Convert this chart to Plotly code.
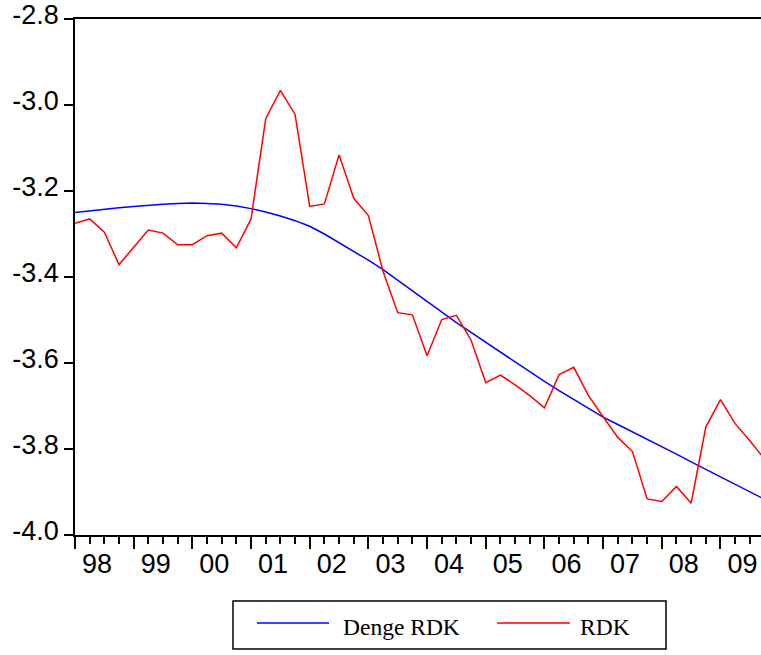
import plotly.graph_objects as go

# Quarterly observations 1998Q1 .. 2009Q4
years = ["98", "99", "00", "01", "02", "03", "04", "05", "06", "07", "08", "09"]
quarters_per_year = 4

rdk = [
    -3.275, -3.265, -3.296, -3.371,
    -3.331, -3.291, -3.298, -3.325,
    -3.325, -3.304, -3.298, -3.332,
    -3.265, -3.032, -2.966, -3.022,
    -3.236, -3.230, -3.116, -3.217,
    -3.257, -3.387, -3.483, -3.488,
    -3.583, -3.499, -3.489, -3.547,
    -3.646, -3.628, -3.651, -3.676,
    -3.704, -3.627, -3.610, -3.676,
    -3.725, -3.773, -3.806, -3.916,
    -3.922, -3.887, -3.926, -3.749,
    -3.685, -3.741, -3.781, -3.823,
]

denge_rdk = [
    -3.250, -3.246, -3.243, -3.239,
    -3.236, -3.233, -3.231, -3.229,
    -3.228, -3.229, -3.231, -3.235,
    -3.241, -3.249, -3.258, -3.269,
    -3.282, -3.300, -3.320, -3.340,
    -3.361, -3.383, -3.408, -3.432,
    -3.457, -3.481, -3.506, -3.529,
    -3.552, -3.575, -3.598, -3.621,
    -3.643, -3.664, -3.685, -3.706,
    -3.726, -3.743, -3.760, -3.778,
    -3.795, -3.812, -3.830, -3.847,
    -3.865, -3.882, -3.899, -3.917,
]

y_ticks = [-2.8, -3.0, -3.2, -3.4, -3.6, -3.8, -4.0]

idx = list(range(len(rdk)))
year_starts = [i * quarters_per_year for i in range(len(years))]

W, H = 761, 655
ML, MR, MT, MB = 75, 0, 19, 120
PW, PH = W - ML - MR, H - MT - MB
QUARTER_PX = 14.67
x_max = PW / QUARTER_PX

AXIS_FONT = dict(family="Liberation Sans, Arial, sans-serif", size=27, color="black")
LEG_FONT = dict(family="Liberation Serif, Times New Roman, serif", size=23.5, color="black")

fig = go.Figure()
fig.add_trace(go.Scatter(x=idx, y=denge_rdk, mode="lines", name="Denge RDK",
                         line=dict(color="#0000FF", width=1.5), showlegend=False))
fig.add_trace(go.Scatter(x=idx, y=rdk, mode="lines", name="RDK",
                         line=dict(color="#FF0000", width=1.5), showlegend=False))

fig.update_xaxes(
    range=[0, x_max],
    tickmode="array",
    tickvals=year_starts,
    ticktext=years,
    ticks="outside", ticklen=12, tickwidth=1.5, tickcolor="black",
    ticklabelshift=int(round(1.5 * QUARTER_PX)),
    ticklabelstandoff=-8,
    ticklabeloverflow="allow",
    minor=dict(tickmode="linear", tick0=0, dtick=1, ticks="outside",
               ticklen=7, tickwidth=1.5, tickcolor="black"),
    showline=True, linecolor="black", linewidth=1.5, mirror=True,
    showgrid=False, zeroline=False,
    tickfont=AXIS_FONT,
)
fig.update_yaxes(
    range=[-4.0, -2.8],
    tickmode="array",
    tickvals=y_ticks,
    ticktext=[f"{v:.1f}" for v in y_ticks],
    ticks="outside", ticklen=9, tickwidth=1.5, tickcolor="black",
    ticklabelstandoff=0,
    ticklabelshift=-4,
    ticklabeloverflow="allow",
    showline=True, linecolor="black", linewidth=1.5,
    showgrid=False, zeroline=False,
    tickfont=AXIS_FONT,
)


def px_x(px):
    return (px - ML) / PW


def px_y(py):
    return (H - MB - py) / PH


# Legend panel below the plot
shapes = [
    dict(type="rect", xref="paper", yref="paper",
         x0=px_x(233), x1=px_x(666), y0=px_y(601), y1=px_y(649),
         line=dict(color="black", width=1.5), fillcolor="white", layer="above"),
    dict(type="line", xref="paper", yref="paper",
         x0=px_x(257), x1=px_x(329), y0=px_y(623), y1=px_y(623),
         line=dict(color="#0000FF", width=1.5)),
    dict(type="line", xref="paper", yref="paper",
         x0=px_x(497), x1=px_x(570), y0=px_y(623), y1=px_y(623),
         line=dict(color="#FF0000", width=1.5)),
]
annotations = [
    dict(xref="paper", yref="paper", x=px_x(341), y=px_y(627), text="Denge RDK",
         showarrow=False, xanchor="left", yanchor="middle", font=LEG_FONT),
    dict(xref="paper", yref="paper", x=px_x(578), y=px_y(627), text="RDK",
         showarrow=False, xanchor="left", yanchor="middle", font=LEG_FONT),
]

fig.update_layout(
    width=W, height=H,
    margin=dict(l=ML, r=MR, t=MT, b=MB, pad=0),
    plot_bgcolor="white", paper_bgcolor="white",
    shapes=shapes, annotations=annotations,
    showlegend=False,
)

fig.write_html("out.html")
